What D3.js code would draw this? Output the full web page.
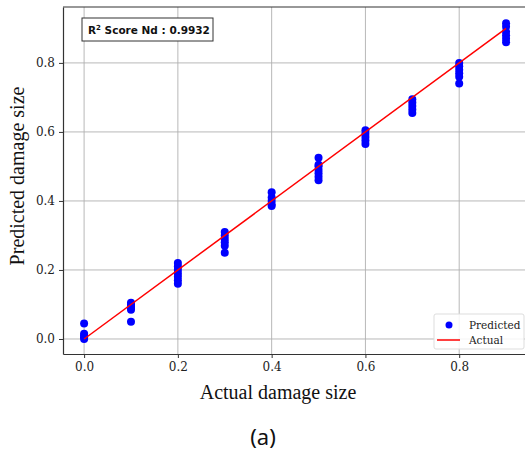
<!DOCTYPE html>
<html>
<head>
<meta charset="utf-8">
<script src="https://cdn.jsdelivr.net/npm/d3@7"></script>
<style>
  body { margin: 0; background: #fff; }
  svg { display: block; }
</style>
</head>
<body>
<div id="vis"></div>
<script>
// actual damage sizes and the predicted values at each
const actualSizes = [0.0, 0.1, 0.2, 0.3, 0.4, 0.5, 0.6, 0.7, 0.8, 0.9];
const predictedBySize = [
  [0.0, 0.005, 0.01, 0.015, 0.045],
  [0.05, 0.085, 0.09, 0.095, 0.1, 0.105],
  [0.16, 0.17, 0.18, 0.19, 0.2, 0.21, 0.22],
  [0.25, 0.27, 0.28, 0.29, 0.3, 0.31],
  [0.385, 0.39, 0.4, 0.41, 0.425],
  [0.46, 0.47, 0.48, 0.49, 0.5, 0.505, 0.525],
  [0.565, 0.575, 0.585, 0.595, 0.605],
  [0.655, 0.665, 0.675, 0.685, 0.695],
  [0.74, 0.76, 0.77, 0.78, 0.79, 0.80],
  [0.86, 0.87, 0.88, 0.89, 0.905, 0.915]
];
const actualLine = [[0.0, 0.0], [0.9, 0.9]];
const xTicks = [0.0, 0.2, 0.4, 0.6, 0.8];
const yTicks = [0.0, 0.2, 0.4, 0.6, 0.8];
const scoreText = 'Score Nd : 0.9932';

const width = 525;
const height = 456;
const plotLeft = 63, plotRight = 530, plotTop = 7, plotBottom = 354;

const svg = d3.select('#vis')
  .append('svg')
  .attr('width', width)
  .attr('height', height);

const x = d3.scaleLinear().domain([-0.045, 0.951]).range([plotLeft, plotRight]);
const y = d3.scaleLinear().domain([-0.0435, 0.962]).range([plotBottom, plotTop]);

// grid
svg.append('g')
  .selectAll('line')
  .data(xTicks.concat([1.0]))
  .join('line')
  .attr('x1', d => x(d)).attr('x2', d => x(d))
  .attr('y1', plotTop).attr('y2', plotBottom)
  .attr('stroke', '#b0b0b0').attr('stroke-width', 0.9);

svg.append('g')
  .selectAll('line')
  .data(yTicks)
  .join('line')
  .attr('x1', plotLeft).attr('x2', plotRight)
  .attr('y1', d => y(d)).attr('y2', d => y(d))
  .attr('stroke', '#b0b0b0').attr('stroke-width', 0.9);

// axes
const xAxis = svg.append('g')
  .attr('transform', `translate(0,${plotBottom})`)
  .call(d3.axisBottom(x).tickValues(xTicks).tickFormat(d3.format('.1f')).tickSize(4).tickPadding(4).tickSizeOuter(0));
const yAxis = svg.append('g')
  .attr('transform', `translate(${plotLeft},0)`)
  .call(d3.axisLeft(y).tickValues(yTicks).tickFormat(d3.format('.1f')).tickSize(4).tickPadding(4).tickSizeOuter(0));

[xAxis, yAxis].forEach(a => {
  a.select('.domain').attr('stroke', '#333').attr('stroke-width', 1.2);
  a.selectAll('.tick line').attr('stroke', '#333');
  a.selectAll('.tick text')
    .attr('fill', '#222')
    .style('font-family', '"DejaVu Serif", serif')
    .style('font-size', '12px');
});

// top spine
svg.append('line')
  .attr('x1', plotLeft).attr('x2', plotRight)
  .attr('y1', plotTop).attr('y2', plotTop)
  .attr('stroke', '#333').attr('stroke-width', 1.2);

// points
const points = [];
actualSizes.forEach((s, i) => {
  predictedBySize[i].forEach(p => points.push([s, p]));
});

svg.append('g')
  .selectAll('circle')
  .data(points)
  .join('circle')
  .attr('cx', d => x(d[0]))
  .attr('cy', d => y(d[1]))
  .attr('r', 4)
  .attr('fill', '#0000ff');

// actual line
svg.append('path')
  .datum(actualLine)
  .attr('d', d3.line().x(d => x(d[0])).y(d => y(d[1])))
  .attr('fill', 'none')
  .attr('stroke', '#ff0000')
  .attr('stroke-width', 1.5);

// score box
const box = svg.append('g').attr('transform', 'translate(82,18)');
box.append('rect')
  .attr('width', 131).attr('height', 23)
  .attr('fill', '#fff').attr('stroke', '#333').attr('stroke-width', 1);
const scoreLabel = box.append('text')
  .attr('x', 6).attr('y', 16)
  .style('font-family', '"DejaVu Sans", sans-serif')
  .style('font-weight', 'bold')
  .style('font-size', '10.5px')
  .attr('fill', '#111');
scoreLabel.append('tspan').text('R');
scoreLabel.append('tspan').attr('dy', -4).style('font-size', '7px').text('2');
scoreLabel.append('tspan').attr('dy', 4).text(' ' + scoreText);

// legend
const legend = svg.append('g').attr('transform', 'translate(434,314)');
legend.append('rect')
  .attr('width', 90).attr('height', 35).attr('rx', 2)
  .attr('fill', '#fff').attr('fill-opacity', 0.85)
  .attr('stroke', '#ddd');
legend.append('circle').attr('cx', 15).attr('cy', 11).attr('r', 3.5).attr('fill', '#0000ff');
legend.append('line').attr('x1', 3).attr('x2', 26).attr('y1', 26).attr('y2', 26)
  .attr('stroke', '#ff0000').attr('stroke-width', 1.5);
legend.selectAll('text.lg')
  .data(['Predicted', 'Actual'])
  .join('text')
  .attr('x', 35)
  .attr('y', (d, i) => 15 + i * 15)
  .style('font-family', '"DejaVu Serif", serif')
  .style('font-size', '10.5px')
  .attr('fill', '#222')
  .text(d => d);

// axis labels
svg.append('text')
  .attr('x', 278).attr('y', 399)
  .attr('text-anchor', 'middle')
  .style('font-family', '"Liberation Serif", "Times New Roman", serif')
  .style('font-size', '20px')
  .attr('fill', '#111')
  .text('Actual damage size');

svg.append('text')
  .attr('transform', 'translate(24,176) rotate(-90)')
  .attr('text-anchor', 'middle')
  .style('font-family', '"Liberation Serif", "Times New Roman", serif')
  .style('font-size', '20px')
  .attr('fill', '#111')
  .text('Predicted damage size');

// caption
svg.append('text')
  .attr('x', 263).attr('y', 445)
  .attr('text-anchor', 'middle')
  .style('font-family', '"Noto Sans", sans-serif')
  .style('font-size', '22px')
  .attr('fill', '#111')
  .text('(a)');
</script>
</body>
</html>
